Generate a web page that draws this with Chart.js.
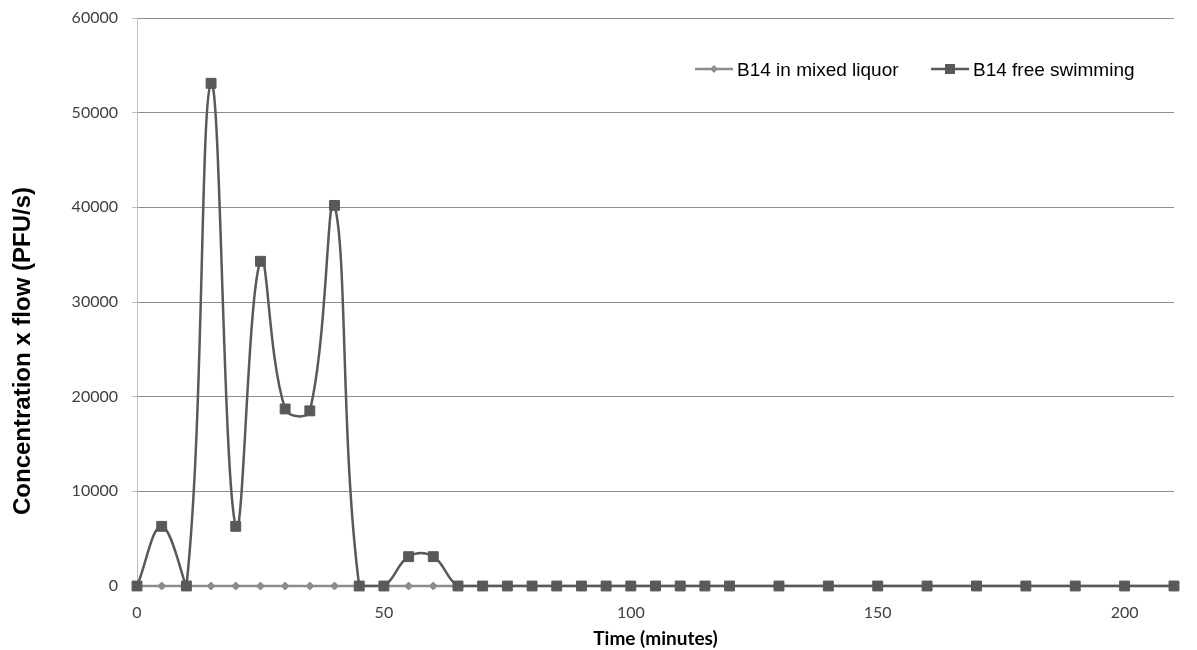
<!DOCTYPE html>
<html>
<head>
    <title>B14 concentration x flow</title>
    <script src="https://cdn.jsdelivr.net/npm/chart.js"></script>
    <style>
        body { margin: 0; background: #fff; }
        #wrap { width: 1197px; height: 650px; position: relative; }
    </style>
</head>
<body>
<div id="wrap"><canvas id="myChart"></canvas></div>
<script>
    // time points (minutes)
    var times = [0, 5, 10, 15, 20, 25, 30, 35, 40, 45, 50, 55, 60, 65, 70, 75, 80, 85, 90, 95,
                 100, 105, 110, 115, 120, 130, 140, 150, 160, 170, 180, 190, 200, 210];
    // concentration x flow (PFU/s)
    var mixedLiquor = [0, 0, 0, 0, 0, 0, 0, 0, 0, 0, 0, 0, 0, 0, 0, 0, 0, 0, 0, 0,
                       0, 0, 0, 0, 0, 0, 0, 0, 0, 0, 0, 0, 0, 0];
    var freeSwimming = [0, 6300, 0, 53100, 6300, 34300, 18700, 18500, 40200, 0, 0, 3100, 3100, 0, 0, 0, 0, 0, 0, 0,
                        0, 0, 0, 0, 0, 0, 0, 0, 0, 0, 0, 0, 0, 0];
    var seriesNames = ['B14 in mixed liquor', 'B14 free swimming'];
    var xTickLabels = [0, 50, 100, 150, 200];
    var yTitle = 'Concentration x flow (PFU/s)';
    var xTitle = 'Time (minutes)';

    var lightColor = '#8c8c8c';
    var darkColor = '#595959';

    function toPoints(ys) {
        return times.map(function (t, i) { return { x: t, y: ys[i] }; });
    }

    // legend + rotated y title, drawn by hand (Excel-like placement)
    var extrasPlugin = {
        id: 'extras',
        afterDraw: function (chart) {
            var ctx = chart.ctx;
            ctx.save();
            // y axis title
            ctx.translate(23, 351);
            ctx.rotate(-Math.PI / 2);
            ctx.font = 'bold 24px "Liberation Sans", Arial, sans-serif';
            ctx.fillStyle = '#000';
            ctx.textAlign = 'center';
            ctx.textBaseline = 'middle';
            ctx.fillText(yTitle, 0, 0);
            ctx.restore();

            // legend
            var items = [
                { x: 695, color: lightColor, shape: 'diamond', text: seriesNames[0] },
                { x: 931, color: darkColor, shape: 'square', text: seriesNames[1] }
            ];
            var ly = 69;
            ctx.save();
            items.forEach(function (it) {
                ctx.strokeStyle = it.color;
                ctx.fillStyle = it.color;
                ctx.lineWidth = 2.5;
                ctx.beginPath();
                ctx.moveTo(it.x, ly);
                ctx.lineTo(it.x + 38, ly);
                ctx.stroke();
                var cx = it.x + 19;
                ctx.beginPath();
                if (it.shape === 'diamond') {
                    ctx.moveTo(cx, ly - 4);
                    ctx.lineTo(cx + 4, ly);
                    ctx.lineTo(cx, ly + 4);
                    ctx.lineTo(cx - 4, ly);
                    ctx.closePath();
                } else {
                    ctx.rect(cx - 5, ly - 5, 10, 10);
                }
                ctx.fill();
                ctx.fillStyle = '#000';
                ctx.font = '19px "Liberation Sans", Arial, sans-serif';
                ctx.textAlign = 'left';
                ctx.textBaseline = 'alphabetic';
                ctx.fillText(it.text, it.x + 42, 76);
            });
            ctx.restore();
        }
    };

    var ctx = document.getElementById('myChart').getContext('2d');
    var myChart = new Chart(ctx, {
        type: 'line',
        data: {
            datasets: [
                {
                    // free swimming markers (not clipped, like Excel)
                    label: seriesNames[1] + ' markers',
                    data: toPoints(freeSwimming),
                    showLine: false,
                    pointStyle: 'rect',
                    pointRadius: 7,
                    pointBorderWidth: 1,
                    pointBackgroundColor: darkColor,
                    pointBorderColor: darkColor,
                    clip: false,
                    order: 0
                },
                {
                    label: seriesNames[1],
                    data: toPoints(freeSwimming),
                    borderColor: darkColor,
                    borderWidth: 2.5,
                    tension: 0.4,
                    pointRadius: 0,
                    fill: false,
                    clip: { left: 2, right: 2, top: 10, bottom: 1.5 },
                    order: 1
                },
                {
                    label: seriesNames[0],
                    data: toPoints(mixedLiquor),
                    borderColor: lightColor,
                    borderWidth: 2.5,
                    tension: 0,
                    pointStyle: 'rectRot',
                    pointRadius: 4,
                    pointBorderWidth: 1,
                    pointBackgroundColor: lightColor,
                    pointBorderColor: lightColor,
                    fill: false,
                    clip: false,
                    order: 2
                }
            ]
        },
        options: {
            responsive: true,
            maintainAspectRatio: false,
            animation: false,
            events: [],
            layout: { padding: { top: 18, right: 23, left: 0, bottom: 0 } },
            plugins: {
                legend: { display: false },
                tooltip: { enabled: false }
            },
            scales: {
                x: {
                    type: 'linear',
                    min: 0,
                    max: 210,
                    afterBuildTicks: function (scale) {
                        scale.ticks = xTickLabels.map(function (v) { return { value: v }; });
                    },
                    afterFit: function (scale) {
                        scale.height = 64;
                        scale.paddingLeft = 0;
                        scale.paddingRight = 0;
                    },
                    grid: {
                        drawOnChartArea: false,
                        drawTicks: true,
                        tickLength: 5,
                        tickColor: '#bfbfbf'
                    },
                    border: { color: '#8c8c8c', width: 1 },
                    ticks: {
                        padding: 12,
                        color: '#404040',
                        font: { family: 'Lato', size: 16 },
                        maxRotation: 0
                    },
                    title: {
                        display: true,
                        text: xTitle,
                        color: '#000',
                        font: { family: 'Lato', size: 19, weight: 'bold' },
                        padding: { top: 0, bottom: 0 }
                    }
                },
                y: {
                    min: 0,
                    max: 60000,
                    ticks: {
                        stepSize: 10000,
                        padding: 14,
                        color: '#404040',
                        font: { family: 'Lato', size: 16 },
                        callback: function (v) { return String(v); }
                    },
                    afterFit: function (scale) {
                        scale.width = 137;
                        scale.paddingTop = 0;
                        scale.paddingBottom = 0;
                    },
                    grid: {
                        color: '#8c8c8c',
                        tickLength: 5,
                        tickColor: '#bfbfbf'
                    },
                    border: { color: '#bfbfbf', width: 1 }
                }
            }
        },
        plugins: [extrasPlugin]
    });
</script>
</body>
</html>
